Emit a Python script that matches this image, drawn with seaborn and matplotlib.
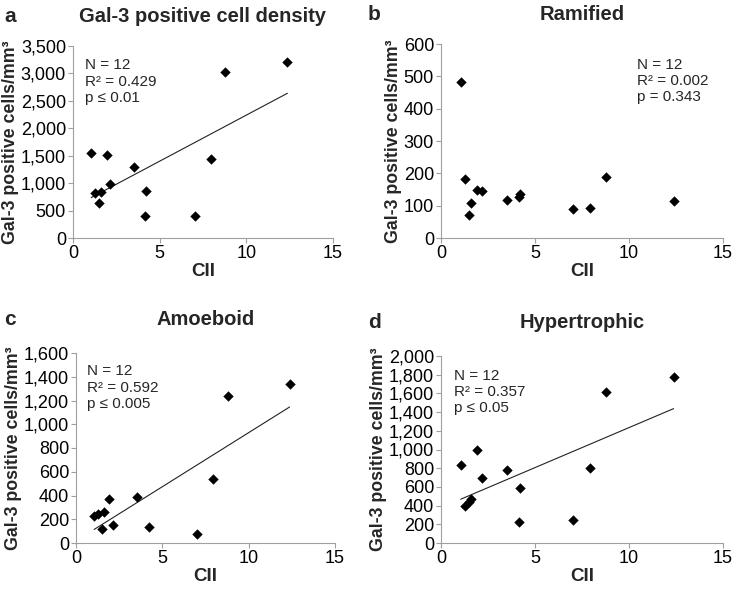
import numpy as np
import pandas as pd
import matplotlib
matplotlib.use("Agg")
import matplotlib.pyplot as plt
from matplotlib.ticker import StrMethodFormatter
import seaborn as sns

# CII values (x)
cii = [1.05, 1.28, 1.50, 1.62, 1.94, 2.16, 3.53, 4.15, 4.22, 7.01, 7.94, 8.78, 12.37]

# Gal-3 positive cells/mm3 per panel
density = [1541, 825, 631, 831, 1510, 989, 1292, 400, 855, 406, 1432, 3027, 3215]
ramified = [483, 183, 71, 108, 148, 145, 119, 128, 136, 90, 94, 190, 114]
hypertrophic = [832, 400, 440, 470, 993, 693, 782, 221, 586, 246, 800, 1611, 1771]
# amoeboid: only 12 points visible (4.15 hidden)
cii_amoeboid = [1.05, 1.28, 1.50, 1.62, 1.94, 2.16, 3.53, 4.22, 7.01, 7.94, 8.78, 12.37]
amoeboid = [228, 242, 115, 265, 372, 149, 389, 132, 76, 538, 1242, 1338]

panel_letters = ["a", "b", "c", "d"]
titles = ["Gal-3 positive cell density", "Ramified", "Amoeboid", "Hypertrophic"]
stats = [
    "N = 12\nR² = 0.429\np ≤ 0.01",
    "N = 12\nR² = 0.002\np = 0.343",
    "N = 12\nR² = 0.592\np ≤ 0.005",
    "N = 12\nR² = 0.357\np ≤ 0.05",
]
y_max = [3500, 600, 1600, 2000]
y_step = [500, 100, 200, 200]
fit_line = [True, False, True, True]

sns.set_style("white")
plt.rcParams["font.family"] = ["Liberation Sans", "DejaVu Sans"]

fig = plt.figure(figsize=(7.34, 5.9), dpi=100)
W, H = 734, 590
# axes boxes in pixels: left, top, right, bottom
boxes = [(73, 46, 333, 238), (441, 44, 723, 238), (76, 353, 335, 543), (441, 356, 723, 543)]
stat_pos = [(0.047, 0.935), (0.695, 0.93), (0.042, 0.94), (0.046, 0.93)]
title_y = [22, 20, 325, 328]
letter_y = [22, 20, 325, 328]

xs = [cii, cii, cii_amoeboid, cii]
ys = [density, ramified, amoeboid, hypertrophic]

for i in range(4):
    l, t, r, b = boxes[i]
    ax = fig.add_axes([l / W, 1 - b / H, (r - l) / W, (b - t) / H])
    df = pd.DataFrame({"CII": xs[i], "val": ys[i]})
    sns.scatterplot(data=df, x="CII", y="val", marker="D", s=28, color="black",
                    edgecolor="black", linewidth=0, ax=ax, zorder=3)
    if fit_line[i]:
        sns.regplot(data=df, x="CII", y="val", scatter=False, ci=None, ax=ax,
                    line_kws={"color": "#222222", "linewidth": 0.8}, truncate=True)
    ax.set_xlim(0, 15)
    ax.set_ylim(0, y_max[i])
    ax.set_xticks([0, 5, 10, 15])
    ax.set_yticks(np.arange(0, y_max[i] + 1, y_step[i]))
    ax.yaxis.set_major_formatter(StrMethodFormatter("{x:,.0f}"))
    for side in ["top", "right"]:
        ax.spines[side].set_visible(False)
    for side in ["left", "bottom"]:
        ax.spines[side].set_color("#a0a0a0")
        ax.spines[side].set_linewidth(0.8)
    ax.tick_params(axis="both", which="major", direction="out", length=3.5, width=0.8,
                   color="#a0a0a0", labelsize=13, labelcolor="black", pad=1.5,
                   left=True, bottom=True)
    ax.set_xlabel("CII", fontsize=13.5, fontweight="bold", labelpad=1)
    ax.set_ylabel("Gal-3 positive cells/mm³", fontsize=12.8, fontweight="bold", labelpad=1)
    ax.text(stat_pos[i][0], stat_pos[i][1], stats[i], transform=ax.transAxes,
            ha="left", va="top", fontsize=11, linespacing=1.2)
    cx = (l + r) / 2 / W
    fig.text(cx, 1 - title_y[i] / H, titles[i], ha="center", va="baseline",
             fontsize=14.5, fontweight="bold")
    lx = 4 / W if i in (0, 2) else 368 / W
    fig.text(lx, 1 - letter_y[i] / H, panel_letters[i], ha="left", va="baseline",
             fontsize=15, fontweight="bold")

fig.savefig("out.png", dpi=100)
